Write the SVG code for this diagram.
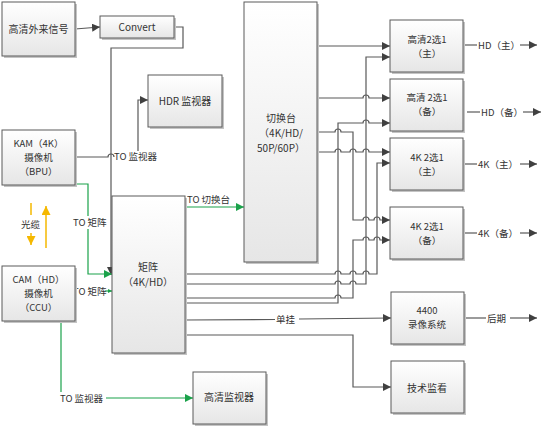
<svg xmlns="http://www.w3.org/2000/svg" width="554" height="429" viewBox="0 0 554 429">
<defs>
<linearGradient id="g" x1="0" y1="0" x2="0" y2="1">
<stop offset="0" stop-color="#ffffff"/>
<stop offset="1" stop-color="#e6e6e6"/>
</linearGradient>
<marker id="a" viewBox="0 0 10 10" refX="10" refY="5" markerWidth="8" markerHeight="8" markerUnits="userSpaceOnUse" orient="auto">
<path d="M0,0 L10,5 L0,10 z" fill="#404040"/>
</marker>
<marker id="ag" viewBox="0 0 10 10" refX="10" refY="5" markerWidth="8" markerHeight="8" markerUnits="userSpaceOnUse" orient="auto">
<path d="M0,0 L10,5 L0,10 z" fill="#1aa24a"/>
</marker>
<marker id="ags" viewBox="0 0 10 10" refX="10" refY="5" markerWidth="4" markerHeight="4" markerUnits="userSpaceOnUse" orient="auto">
<path d="M0,0 L10,5 L0,10 z" fill="#1aa24a"/>
</marker>
<marker id="ao" viewBox="0 0 10 10" refX="10" refY="5" markerWidth="9" markerHeight="9" markerUnits="userSpaceOnUse" orient="auto">
<path d="M0,0 L10,5 L0,10 z" fill="#f5b800"/>
</marker>
</defs>
<style>
.box{fill:url(#g);stroke:#5a5a5a;stroke-width:1}
.sh{fill:#c4c4c4}
.t{font-family:"Noto Sans CJK SC","Liberation Sans",sans-serif;font-size:10px;fill:#333;text-anchor:middle}
.m{font-family:"Noto Sans CJK SC","Liberation Sans",sans-serif;font-size:9.5px;fill:#333;text-anchor:middle}
.l{font-family:"Noto Sans CJK SC","Liberation Sans",sans-serif;font-size:9.5px;fill:#333}
.c{fill:none;stroke:#595959;stroke-width:1.2}
.ca{fill:none;stroke:#595959;stroke-width:1.2;marker-end:url(#a)}
.gr{fill:none;stroke:#1aa24a;stroke-width:1.2}
.gra{fill:none;stroke:#1aa24a;stroke-width:1.2;marker-end:url(#ag)}
.or{fill:none;stroke:#f5b800;stroke-width:1.5}
</style>
<rect width="554" height="429" fill="#ffffff"/>

<g id="connectors">
<path class="ca" d="M75,29 L100,27"/>
<path class="ca" d="M174,27 H183 V48 H111 V275"/>
<path class="c" d="M75,157 H108 A3,3 0 0 1 114,157"/>
<path class="ca" d="M138,151 V100 H148"/>
<path class="gr" d="M75,184 H88 V216"/>
<path class="gra" d="M88,229 V274 H112"/>
<path class="gr" d="M105,291 H112" style="marker-end:url(#ags)"/>
<path class="gr" d="M61,321 V392"/>
<path class="gra" d="M106,398 H193"/>
<path class="gra" d="M185,207 H244"/>
<path class="or" d="M31,203 V215"/>
<path class="or" d="M31,233 V245" style="marker-end:url(#ao)"/>
<path class="or" d="M46,248 V206" style="marker-end:url(#ao)"/>

<path class="ca" d="M317,46 H390"/>
<path class="ca" d="M317,98 H363 A3,3 0 0 1 369,98 H390"/>
<path class="ca" d="M317,132 H335 A3,3 0 0 1 341,132 H353 V220 H363 A3,3 0 0 1 369,220 H374 A3,3 0 0 1 380,220 H390"/>
<path class="ca" d="M317,152 H335 A3,3 0 0 1 341,152 H350 A3,3 0 0 1 356,152 H363 A3,3 0 0 1 369,152 H390"/>
<path class="ca" d="M185,303 H338 V123 H363 A3,3 0 0 1 369,123 H390"/>
<path class="ca" d="M185,298 H335 A3,3 0 0 1 341,298 H353 V240 H363 A3,3 0 0 1 369,240 H374 A3,3 0 0 1 380,240 H390"/>
<path class="ca" d="M185,284 H335 A3,3 0 0 1 341,284 H350 A3,3 0 0 1 356,284 H366 V57 H390"/>
<path class="ca" d="M185,274 H335 A3,3 0 0 1 341,274 H350 A3,3 0 0 1 356,274 H363 A3,3 0 0 1 369,274 H377 V163 H390"/>
<path class="c" d="M185,320 L275,319.5"/>
<path class="ca" d="M299,319 L391,318"/>
<path class="ca" d="M185,335 H353 V387 H391"/>

<path class="c" d="M463,45 H477"/>
<path class="ca" d="M520,45 H537"/>
<path class="c" d="M467,112 H480"/>
<path class="ca" d="M523,112 H541"/>
<path class="c" d="M463,164 H477"/>
<path class="ca" d="M520,164 H537"/>
<path class="c" d="M463,233 H477"/>
<path class="ca" d="M520,233 H537"/>
<path class="c" d="M464,318 H486"/>
<path class="ca" d="M510,318 H537"/>

<text class="l" x="114" y="160">TO 监视器</text>
<text class="l" x="73" y="226">TO 矩阵</text>
<text class="l" x="73" y="295">TO 矩阵</text>
<text class="l" x="60" y="402">TO 监视器</text>
<text class="l" x="187" y="203">TO 切换台</text>
<text class="l" x="21" y="228">光缆</text>
<text class="l" x="276" y="323">单挂</text>
<text class="l" x="478" y="49">HD（主）</text>
<text class="l" x="481" y="116">HD（备）</text>
<text class="l" x="478" y="168">4K（主）</text>
<text class="l" x="478" y="237">4K（备）</text>
<text class="l" x="487" y="322">后期</text>
</g>

<g id="n-ext"><rect class="sh" x="4" y="4" width="73" height="54"/><rect class="box" x="2" y="2" width="73" height="54"/><text class="t" x="38.5" y="33">高清外来信号</text></g>
<g id="n-convert"><rect class="sh" x="102" y="18" width="74" height="22"/><rect class="box" x="100" y="16" width="74" height="22"/><text class="t" x="137" y="31">Convert</text></g>
<g id="n-hdr"><rect class="sh" x="150" y="77" width="74" height="52"/><rect class="box" x="148" y="75" width="74" height="52"/><text class="t" x="185" y="105">HDR 监视器</text></g>
<g id="n-kam"><rect class="sh" x="4" y="132" width="73" height="55"/><rect class="box" x="2" y="130" width="73" height="55"/><text class="m" x="38.5" y="147">KAM（4K）</text><text class="m" x="38.5" y="161">摄像机</text><text class="m" x="38.5" y="175">（BPU）</text></g>
<g id="n-cam"><rect class="sh" x="4" y="268" width="73" height="55"/><rect class="box" x="2" y="266" width="73" height="55"/><text class="m" x="38.5" y="282.5">CAM（HD）</text><text class="m" x="38.5" y="296.5">摄像机</text><text class="m" x="38.5" y="310.5">（CCU）</text></g>
<g id="n-matrix"><rect class="sh" x="114" y="198" width="73" height="157"/><rect class="box" x="112" y="196" width="73" height="157"/><text class="t" x="148" y="271">矩阵</text><text class="t" x="148" y="286">（4K/HD）</text></g>
<g id="n-hdmon"><rect class="sh" x="195" y="374" width="73" height="52"/><rect class="box" x="193" y="372" width="73" height="52"/><text class="t" x="229" y="401">高清监视器</text></g>
<g id="n-switch"><rect class="sh" x="246" y="4" width="73" height="260"/><rect class="box" x="244" y="2" width="73" height="260"/><text class="t" x="281" y="122">切换台</text><text class="t" x="281" y="137">（4K/HD/</text><text class="t" x="281" y="152">50P/60P）</text></g>
<g id="n-hd1"><rect class="sh" x="392" y="22" width="73" height="52"/><rect class="box" x="390" y="20" width="73" height="52"/><text class="m" x="427" y="42.5">高清2选1</text><text class="m" x="427" y="56.5">（主）</text></g>
<g id="n-hd2"><rect class="sh" x="392" y="81" width="73" height="52"/><rect class="box" x="390" y="79" width="73" height="52"/><text class="m" x="427" y="101">高清 2选1</text><text class="m" x="427" y="115">（备）</text></g>
<g id="n-4k1"><rect class="sh" x="392" y="140" width="73" height="52"/><rect class="box" x="390" y="138" width="73" height="52"/><text class="m" x="427" y="160.5">4K 2选1</text><text class="m" x="427" y="174.5">（主）</text></g>
<g id="n-4k2"><rect class="sh" x="392" y="209" width="73" height="52"/><rect class="box" x="390" y="207" width="73" height="52"/><text class="m" x="427" y="230">4K 2选1</text><text class="m" x="427" y="244">（备）</text></g>
<g id="n-rec"><rect class="sh" x="393" y="294" width="73" height="52"/><rect class="box" x="391" y="292" width="73" height="52"/><text class="m" x="427" y="314">4400</text><text class="m" x="427" y="328">录像系统</text></g>
<g id="n-tech"><rect class="sh" x="393" y="363" width="73" height="52"/><rect class="box" x="391" y="361" width="73" height="52"/><text class="t" x="427" y="392">技术监看</text></g>
</svg>
